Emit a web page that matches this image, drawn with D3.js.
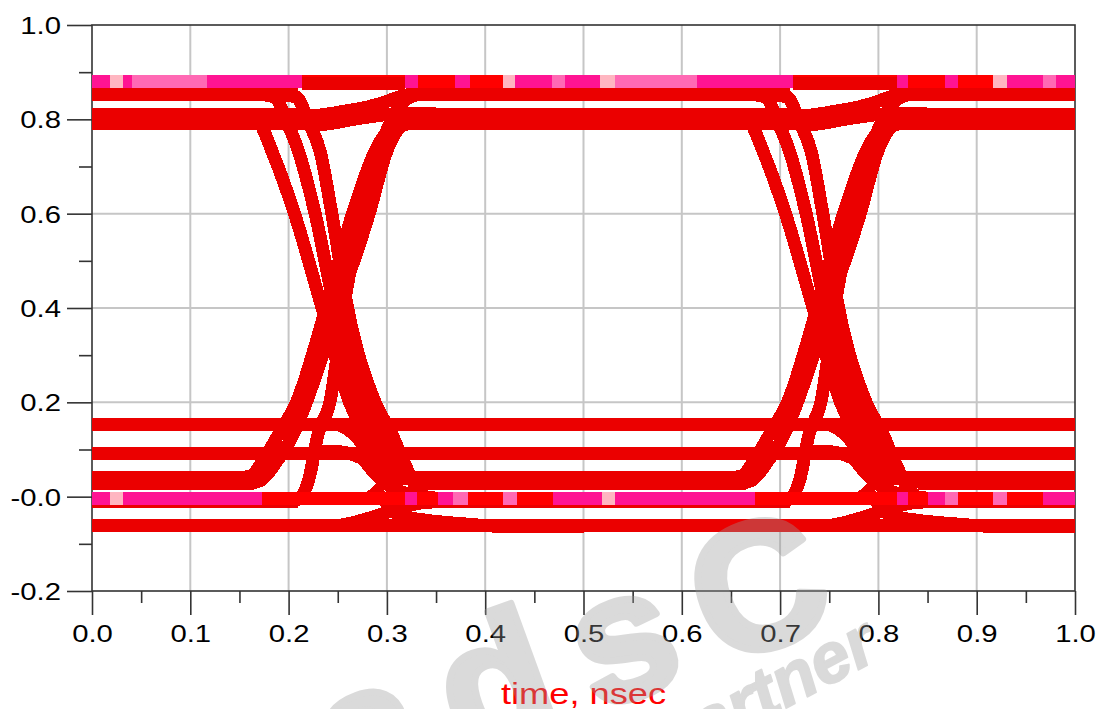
<!DOCTYPE html>
<html>
<head>
<meta charset="utf-8">
<script src="https://cdn.jsdelivr.net/npm/d3@7"></script>
<style>
  body { margin: 0; background: #fff; }
  svg { display: block; }
</style>
</head>
<body>
<script>
// axis ticks
const timeTicks  = [0.0, 0.1, 0.2, 0.3, 0.4, 0.5, 0.6, 0.7, 0.8, 0.9, 1.0];
const timeLabels = ["0.0", "0.1", "0.2", "0.3", "0.4", "0.5", "0.6", "0.7", "0.8", "0.9", "1.0"];
const timeMinor  = [0.05, 0.15, 0.25, 0.35, 0.45, 0.55, 0.65, 0.75, 0.85, 0.95];
const voltTicks  = [1.0, 0.8, 0.6, 0.4, 0.2, 0.0, -0.2];
const voltLabels = ["1.0", "0.8", "0.6", "0.4", "0.2", "-0.0", "-0.2"];
const voltMinor  = [0.9, 0.7, 0.5, 0.3, 0.1, -0.1];

// the two eye crossings (nsec)
const crossings = [0.25, 0.7495];

// settled levels: value, from, to (nsec)
const levelValue = [0.853, 0.853, 0.853, 0.81, 0.81, 0.81, 0.791, 0.791, 0.791,
                    0.154, 0.092, 0.04, 0.04, 0.04, 0.028, 0.028, 0.028,
                    -0.01, -0.01, -0.01, -0.062];
const levelFrom  = [0, 0.32, 0.82, 0, 0.32, 0.82, 0, 0.32, 0.82,
                    0, 0, 0, 0.33, 0.83, 0, 0.34, 0.84,
                    0, 0.34, 0.84, 0];
const levelTo    = [0.21, 0.71, 1, 0.21, 0.71, 1, 0.23, 0.73, 1,
                    1, 1, 0.16, 0.66, 1, 0.165, 0.665, 1,
                    0.21, 0.71, 1, 1];

// rising edges, time relative to crossing
const riseEdges = [
  [[-0.10, 0.04], [-0.088, 0.045], [-0.075, 0.08], [-0.06, 0.133], [-0.042, 0.2], [-0.012, 0.4],
   [0.015, 0.6], [0.038, 0.733], [0.05, 0.775], [0.062, 0.80], [0.08, 0.81], [0.1, 0.81]],
  [[-0.09, 0.028], [-0.078, 0.035], [-0.062, 0.075], [-0.045, 0.133], [-0.032, 0.2], [0.0, 0.4],
   [0.032, 0.6], [0.05, 0.733], [0.06, 0.775], [0.07, 0.79], [0.1, 0.791]],
  [[-0.05, -0.01], [-0.04, -0.005], [-0.029, 0.04], [-0.02, 0.133], [-0.008, 0.2], [0.006, 0.4],
   [0.024, 0.6], [0.042, 0.733], [0.055, 0.80], [0.068, 0.84], [0.085, 0.853], [0.1, 0.853]]
];

// falling edges, time relative to crossing
const fallEdges = [
  [[-0.11, 0.81], [-0.092, 0.806], [-0.079, 0.79], [-0.067, 0.733], [-0.044, 0.6], [-0.016, 0.4],
   [0.012, 0.2], [0.028, 0.133], [0.045, 0.075], [0.065, 0.045], [0.09, 0.04], [0.11, 0.04]],
  [[-0.08, 0.853], [-0.064, 0.847], [-0.053, 0.80], [-0.04, 0.733], [-0.023, 0.6], [-0.003, 0.4],
   [0.025, 0.2], [0.04, 0.133], [0.055, 0.075], [0.075, 0.04], [0.1, 0.03], [0.12, 0.028]],
  [[-0.06, 0.853], [-0.042, 0.847], [-0.029, 0.79], [-0.018, 0.733], [-0.006, 0.6], [0.01, 0.4],
   [0.038, 0.2], [0.055, 0.133], [0.068, 0.07], [0.08, 0.02], [0.095, -0.005], [0.12, -0.01]]
];

// slow ISI bends near the levels, time relative to crossing
const bendCurves = [
  [[-0.05, 0.81], [-0.031, 0.807], [-0.011, 0.811], [0.009, 0.818], [0.03, 0.826], [0.05, 0.838], [0.06, 0.846], [0.075, 0.853], [0.1, 0.853]],
  [[-0.03, 0.791], [-0.018, 0.789], [0.016, 0.80], [0.05, 0.81], [0.07, 0.812], [0.1, 0.812]],
  [[-0.03, 0.154], [0.0, 0.152], [0.012, 0.14], [0.023, 0.117], [0.036, 0.068], [0.05, 0.045], [0.07, 0.038], [0.1, 0.036]],
  [[-0.025, 0.094], [-0.005, 0.096], [0.023, 0.083], [0.036, 0.054], [0.053, 0.022], [0.073, 0.005], [0.1, -0.003]],
  [[-0.03, -0.062], [-0.001, -0.061], [0.023, -0.051], [0.056, -0.029], [0.07, -0.02], [0.09, -0.012], [0.12, -0.01]],
  [[0.035, 0.02], [0.048, -0.01], [0.063, -0.04], [0.09, -0.05], [0.13, -0.058], [0.178, -0.064], [0.25, -0.064]]
];

// top level (0.881) and bottom level (-0.003): which trace colour is on top
const topLevel = 0.881;
const topStart = [0, 0.018, 0.032, 0.041, 0.117, 0.214, 0.318, 0.332, 0.369, 0.385, 0.418, 0.430, 0.468, 0.481, 0.517, 0.532, 0.615, 0.713, 0.819, 0.830, 0.868, 0.881, 0.917, 0.931, 0.967, 0.981];
const topEnd   = [0.018, 0.032, 0.041, 0.117, 0.214, 0.318, 0.332, 0.369, 0.385, 0.418, 0.430, 0.468, 0.481, 0.517, 0.532, 0.615, 0.713, 0.819, 0.830, 0.868, 0.881, 0.917, 0.931, 0.967, 0.981, 1.0];
const topShade = ["deep", "light", "deep", "hot", "deep", "red", "deep", "red", "deep", "red", "light", "deep", "hot", "deep", "light", "hot", "deep", "red", "deep", "red", "deep", "red", "light", "deep", "hot", "deep"];

const botLevel = -0.003;
const botStart = [0, 0.018, 0.032, 0.173, 0.318, 0.331, 0.352, 0.367, 0.383, 0.418, 0.432, 0.469, 0.519, 0.532, 0.674, 0.819, 0.830, 0.850, 0.868, 0.881, 0.917, 0.931, 0.967];
const botEnd   = [0.018, 0.032, 0.173, 0.318, 0.331, 0.352, 0.367, 0.383, 0.418, 0.432, 0.469, 0.519, 0.532, 0.674, 0.819, 0.830, 0.850, 0.868, 0.881, 0.917, 0.931, 0.967, 1.0];
const botShade = ["deep", "light", "deep", "red", "deep", "red", "deep", "hot", "red", "hot", "red", "deep", "light", "deep", "red", "deep", "red", "deep", "hot", "red", "hot", "red", "deep"];

// red trace lying just under the top level around the crossings
const capValue = [0.876, 0.876];
const capFrom  = [0.214, 0.713];
const capTo    = [0.318, 0.819];

const W = 1096, H = 709;
const traceRed = "#eb0000";
const traceWidth = 13;

const shadeColor = d3.scaleOrdinal()
  .domain(["deep", "hot", "light", "red"])
  .range(["#ff1493", "#ff69b4", "#ffb6c1", "#ff0000"]);

const x = d3.scaleLinear().domain([0, 1]).range([92, 1075]);
const y = d3.scaleLinear().domain([-0.2, 1.0]).range([591, 25]);

const svg = d3.select("body").append("svg")
  .attr("width", W)
  .attr("height", H);

// grid
svg.append("g").selectAll("line")
  .data(timeTicks.slice(1, -1))
  .enter().append("line")
  .attr("x1", d => x(d)).attr("x2", d => x(d))
  .attr("y1", y(1.0)).attr("y2", y(-0.2))
  .attr("stroke", "#c6c6c6").attr("stroke-width", 2);

svg.append("g").selectAll("line")
  .data(voltTicks.slice(1, -1))
  .enter().append("line")
  .attr("x1", x(0)).attr("x2", x(1))
  .attr("y1", d => y(d)).attr("y2", d => y(d))
  .attr("stroke", "#c6c6c6").attr("stroke-width", 2);

// frame
svg.append("rect")
  .attr("x", x(0)).attr("y", y(1.0))
  .attr("width", x(1) - x(0)).attr("height", y(-0.2) - y(1.0))
  .attr("fill", "none").attr("stroke", "#333").attr("stroke-width", 1.6);

const font = "'Liberation Sans', Arial, sans-serif";

// left axis
const yAxis = svg.append("g")
  .attr("transform", "translate(" + x(0) + ",0)")
  .attr("color", "#333")
  .call(d3.axisLeft(y).tickValues(voltTicks).tickSize(25)
    .tickFormat((d, i) => voltLabels[i]));
yAxis.select(".domain").remove();
yAxis.selectAll(".tick line").attr("stroke-width", 1.6);
yAxis.selectAll(".tick text")
  .attr("x", 0).attr("dy", "0.36em")
  .attr("transform", "translate(-31,0) scale(1.22,1)")
  .attr("fill", "#000")
  .attr("font-family", font)
  .attr("font-size", 24);

const yMinor = svg.append("g")
  .attr("transform", "translate(" + x(0) + ",0)")
  .attr("color", "#333")
  .call(d3.axisLeft(y).tickValues(voltMinor).tickSize(13).tickFormat(""));
yMinor.select(".domain").remove();
yMinor.selectAll(".tick line").attr("stroke-width", 1.6);

// bottom axis
const xAxis = svg.append("g")
  .attr("transform", "translate(0," + y(-0.2) + ")")
  .attr("color", "#333")
  .call(d3.axisBottom(x).tickValues(timeTicks).tickSize(24)
    .tickFormat((d, i) => timeLabels[i]));
xAxis.select(".domain").remove();
xAxis.selectAll(".tick line").attr("stroke-width", 1.6);
xAxis.selectAll(".tick text")
  .attr("y", 0).attr("dy", 0)
  .attr("transform", "translate(0,51) scale(1.22,1)")
  .attr("fill", "#000")
  .attr("font-family", font)
  .attr("font-size", 24);

const xMinor = svg.append("g")
  .attr("transform", "translate(0," + y(-0.2) + ")")
  .attr("color", "#333")
  .call(d3.axisBottom(x).tickValues(timeMinor).tickSize(12).tickFormat(""));
xMinor.select(".domain").remove();
xMinor.selectAll(".tick line").attr("stroke-width", 1.6);

// traces
const traces = svg.append("g")
  .attr("fill", "none")
  .attr("stroke-width", traceWidth)
  .attr("shape-rendering", "crispEdges");

traces.selectAll(".level")
  .data(levelValue)
  .enter().append("line")
  .attr("class", "level")
  .attr("x1", (d, i) => x(levelFrom[i]))
  .attr("x2", (d, i) => x(levelTo[i]))
  .attr("y1", d => y(d)).attr("y2", d => y(d))
  .attr("stroke", traceRed);

const edgeData = [];
crossings.forEach(c => {
  riseEdges.concat(fallEdges, bendCurves).forEach(pts => edgeData.push({ c: c, pts: pts }));
});

const edgeLine = d3.line().curve(d3.curveMonotoneX);
traces.selectAll(".edge")
  .data(edgeData)
  .enter().append("path")
  .attr("class", "edge")
  .attr("d", d => edgeLine(d.pts.map(p => [x(d.c + p[0]), y(p[1])])))
  .attr("stroke", traceRed);

// segmented top and bottom levels
traces.selectAll(".topseg")
  .data(topStart)
  .enter().append("line")
  .attr("class", "topseg")
  .attr("x1", d => x(d))
  .attr("x2", (d, i) => x(topEnd[i]))
  .attr("y1", y(topLevel)).attr("y2", y(topLevel))
  .attr("stroke", (d, i) => shadeColor(topShade[i]));

traces.selectAll(".botseg")
  .data(botStart)
  .enter().append("line")
  .attr("class", "botseg")
  .attr("x1", d => x(d))
  .attr("x2", (d, i) => x(botEnd[i]))
  .attr("y1", y(botLevel)).attr("y2", y(botLevel))
  .attr("stroke", (d, i) => shadeColor(botShade[i]));

traces.selectAll(".cap")
  .data(capValue)
  .enter().append("line")
  .attr("class", "cap")
  .attr("x1", (d, i) => x(capFrom[i]))
  .attr("x2", (d, i) => x(capTo[i]))
  .attr("y1", d => y(d)).attr("y2", d => y(d))
  .attr("stroke", traceRed);

// axis title
svg.append("text")
  .attr("transform", "translate(" + ((x(0) + x(1)) / 2) + ",704) scale(1.25,1)")
  .attr("text-anchor", "middle")
  .attr("fill", "#ff0000")
  .attr("font-family", font)
  .attr("font-size", 29)
  .text("time, nsec");

// watermark
const mark = svg.append("g")
  .attr("fill", "#9a9a9a")
  .attr("stroke", "#9a9a9a")
  .attr("stroke-linejoin", "round")
  .attr("opacity", 0.36)
  .attr("font-family", font)
  .attr("font-weight", "bold");
mark.append("text")
  .attr("transform", "translate(605,708) rotate(-20)")
  .attr("text-anchor", "middle")
  .attr("letter-spacing", 30)
  .attr("stroke-width", 7)
  .attr("font-size", 180)
  .text("adsC");
mark.append("text")
  .attr("transform", "translate(775,714) rotate(-28)")
  .attr("text-anchor", "middle")
  .attr("font-style", "italic")
  .attr("stroke-width", 2)
  .attr("font-size", 70)
  .text("partner");
</script>
</body>
</html>
